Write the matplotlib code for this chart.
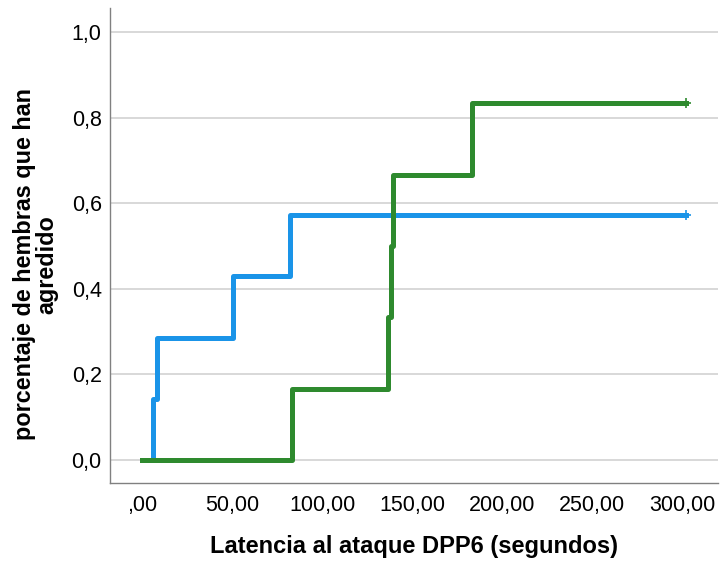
import matplotlib
matplotlib.use("Agg")
import matplotlib.pyplot as plt
from matplotlib.ticker import FixedLocator, FuncFormatter

plt.rcParams['font.family'] = ['Liberation Sans', 'DejaVu Sans']

# Kaplan-Meier cumulative proportions
blue_t = [0, 6, 8, 50.5, 82, 302]
blue_p = [0, 1/7, 2/7, 3/7, 4/7, 4/7]
green_t = [0, 83, 136.7, 138, 139.5, 183, 302]
green_p = [0, 1/6, 2/6, 3/6, 4/6, 5/6, 5/6]

x_ticks = [0, 50, 100, 150, 200, 250, 300]
y_ticks = [0, 0.2, 0.4, 0.6, 0.8, 1.0]

blue = '#1a94e8'
green = '#2e8a2e'

fig = plt.figure(figsize=(7.23, 5.63), dpi=100)
ax = fig.add_axes([110/723, 80/563, 608/723, 475/563])

ax.step(blue_t, blue_p, where='post', color=blue, lw=3.6, zorder=3)
ax.plot(blue_t[-1], blue_p[-1], marker='+', color=blue, ms=7, mew=1.2, zorder=4)
ax.step(green_t, green_p, where='post', color=green, lw=3.6, zorder=3)
ax.plot(green_t[-1], green_p[-1], marker='+', color=green, ms=7, mew=1.2, zorder=4)

ax.set_xlim(-18, 320)
ax.set_ylim(-0.054, 1.056)

ax.xaxis.set_major_locator(FixedLocator(x_ticks))
ax.yaxis.set_major_locator(FixedLocator(y_ticks))
ax.xaxis.set_major_formatter(FuncFormatter(
    lambda v, pos: ',00' if v == 0 else ('%.2f' % v).replace('.', ',')))
ax.yaxis.set_major_formatter(FuncFormatter(
    lambda v, pos: ('%.1f' % v).replace('.', ',')))

ax.grid(axis='y', color='#d2d2d2', lw=1.2, zorder=1)
ax.set_axisbelow(True)
for s in ['top', 'right']:
    ax.spines[s].set_visible(False)
for s in ['left', 'bottom']:
    ax.spines[s].set_color('#808080')
    ax.spines[s].set_linewidth(1.0)

ax.tick_params(axis='both', length=0, labelsize=15.5, colors='black')
ax.tick_params(axis='y', pad=6)
ax.tick_params(axis='x', pad=9)

ax.set_xlabel('Latencia al ataque DPP6 (segundos)', fontsize=17, fontweight='bold')
ax.set_ylabel('porcentaje de hembras que han\nagredido', fontsize=16.8,
              fontweight='bold', linespacing=0.95)
ax.xaxis.set_label_coords(0.5, -0.11)
ax.yaxis.set_label_coords(-0.085, 0.46)

fig.savefig('out.png', dpi=100)
